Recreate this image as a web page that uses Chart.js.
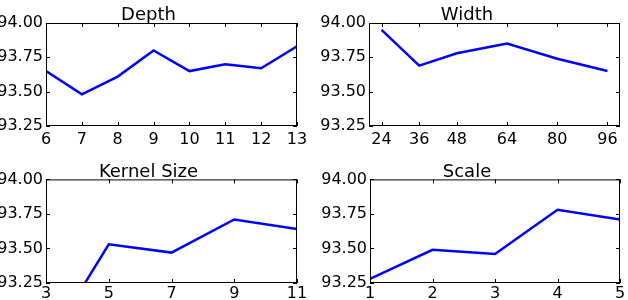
<!DOCTYPE html>
<html>
<head>
<meta charset="utf-8">
<script src="https://cdn.jsdelivr.net/npm/chart.js@4/dist/chart.umd.min.js"></script>
<style>
  html, body { margin: 0; padding: 0; background: #fff; }
  body { width: 628px; height: 300px; position: relative; overflow: hidden; }
  .box { position: absolute; width: 314px; height: 150px; }
</style>
</head>
<body>
<div class="box" style="left:0;top:0"><canvas id="depth"></canvas></div>
<div class="box" style="left:314px;top:0"><canvas id="width"></canvas></div>
<div class="box" style="left:0;top:150px"><canvas id="kernel"></canvas></div>
<div class="box" style="left:314px;top:150px"><canvas id="scale"></canvas></div>
<script>
// data
const yTicks = [93.25, 93.5, 93.75, 94.0];

const depthX = [6, 7, 8, 9, 10, 11, 12, 13];
const depthY = [93.65, 93.48, 93.61, 93.80, 93.65, 93.70, 93.67, 93.83];

const widthX = [24, 36, 48, 64, 80, 96];
const widthY = [93.95, 93.69, 93.78, 93.85, 93.74, 93.65];

const kernelX = [3, 5, 7, 9, 11];
const kernelY = [92.79, 93.53, 93.47, 93.71, 93.64];

const scaleX = [1, 2, 3, 4, 5];
const scaleY = [93.28, 93.49, 93.46, 93.78, 93.71];

Chart.defaults.font.family = 'DejaVu Sans';
Chart.defaults.color = '#000';

// matplotlib classic look: black frame, inward ticks on all four sides
const frame = {
  id: 'frame',
  afterDraw(chart) {
    const { ctx, chartArea: a } = chart;
    const xs = chart.scales.x, ys = chart.scales.y;
    ctx.save();
    ctx.strokeStyle = '#000';
    ctx.lineWidth = 1;
    ctx.strokeRect(a.left + 0.5, a.top + 0.5, a.right - a.left - 1, a.bottom - a.top - 1);
    ctx.beginPath();
    xs.ticks.forEach(t => {
      const p = Math.round(xs.getPixelForValue(t.value)) + 0.5;
      ctx.moveTo(p, a.bottom); ctx.lineTo(p, a.bottom - 4);
      ctx.moveTo(p, a.top); ctx.lineTo(p, a.top + 4);
    });
    ys.ticks.forEach(t => {
      const p = Math.round(ys.getPixelForValue(t.value)) + 0.5;
      ctx.moveTo(a.left, p); ctx.lineTo(a.left + 4, p);
      ctx.moveTo(a.right, p); ctx.lineTo(a.right - 4, p);
    });
    ctx.stroke();
    ctx.restore();
  }
};

function panel(id, title, xs, ys, o) {
  new Chart(document.getElementById(id), {
    type: 'line',
    data: {
      datasets: [{
        data: xs.map((x, i) => ({ x: x, y: ys[i] })),
        borderColor: '#0000ff',
        borderWidth: 2.5,
        pointRadius: 0,
        tension: 0
      }]
    },
    options: {
      responsive: true,
      maintainAspectRatio: false,
      animation: false,
      layout: { padding: { top: o.top, right: o.right, left: 0, bottom: 0 } },
      plugins: {
        legend: { display: false },
        tooltip: { enabled: false },
        title: {
          display: true,
          text: title,
          font: { size: 18, weight: 'normal', lineHeight: 0.8 },
          padding: { top: 8, bottom: o.tb }
        }
      },
      scales: {
        x: {
          type: 'linear',
          min: o.xmin,
          max: o.xmax,
          grid: { display: false, drawTicks: false },
          border: { display: false },
          ticks: { font: { size: 16 }, padding: o.xpad, maxRotation: 0, autoSkip: false },
          afterBuildTicks: s => { s.ticks = xs.filter(v => v >= o.xmin).map(v => ({ value: v })); },
          afterFit: s => { s.height = o.xh; }
        },
        y: {
          min: 93.25,
          max: 94.0,
          grid: { display: false, drawTicks: false },
          border: { display: false },
          ticks: { font: { size: 16 }, padding: 3, callback: v => v.toFixed(2) },
          afterBuildTicks: s => { s.ticks = yTicks.map(v => ({ value: v })); },
          afterFit: s => { s.width = o.yw; }
        }
      }
    },
    plugins: [frame]
  });
}

panel('depth', 'Depth', depthX, depthY, { xmin: 6, xmax: 13, yw: 46, right: 17, top: 0, tb: 0.6, xh: 24, xpad: 4 });
panel('width', 'Width', widthX, widthY, { xmin: 20, xmax: 100, yw: 55, right: 8, top: 0, tb: 0.6, xh: 24, xpad: 4 });
panel('kernel', 'Kernel Size', kernelX, kernelY, { xmin: 3, xmax: 11, yw: 46, right: 17, top: 7, tb: 0, xh: 17, xpad: 1 });
panel('scale', 'Scale', scaleX, scaleY, { xmin: 1, xmax: 5, yw: 56, right: 8, top: 7, tb: 0, xh: 17, xpad: 1 });
</script>
</body>
</html>
